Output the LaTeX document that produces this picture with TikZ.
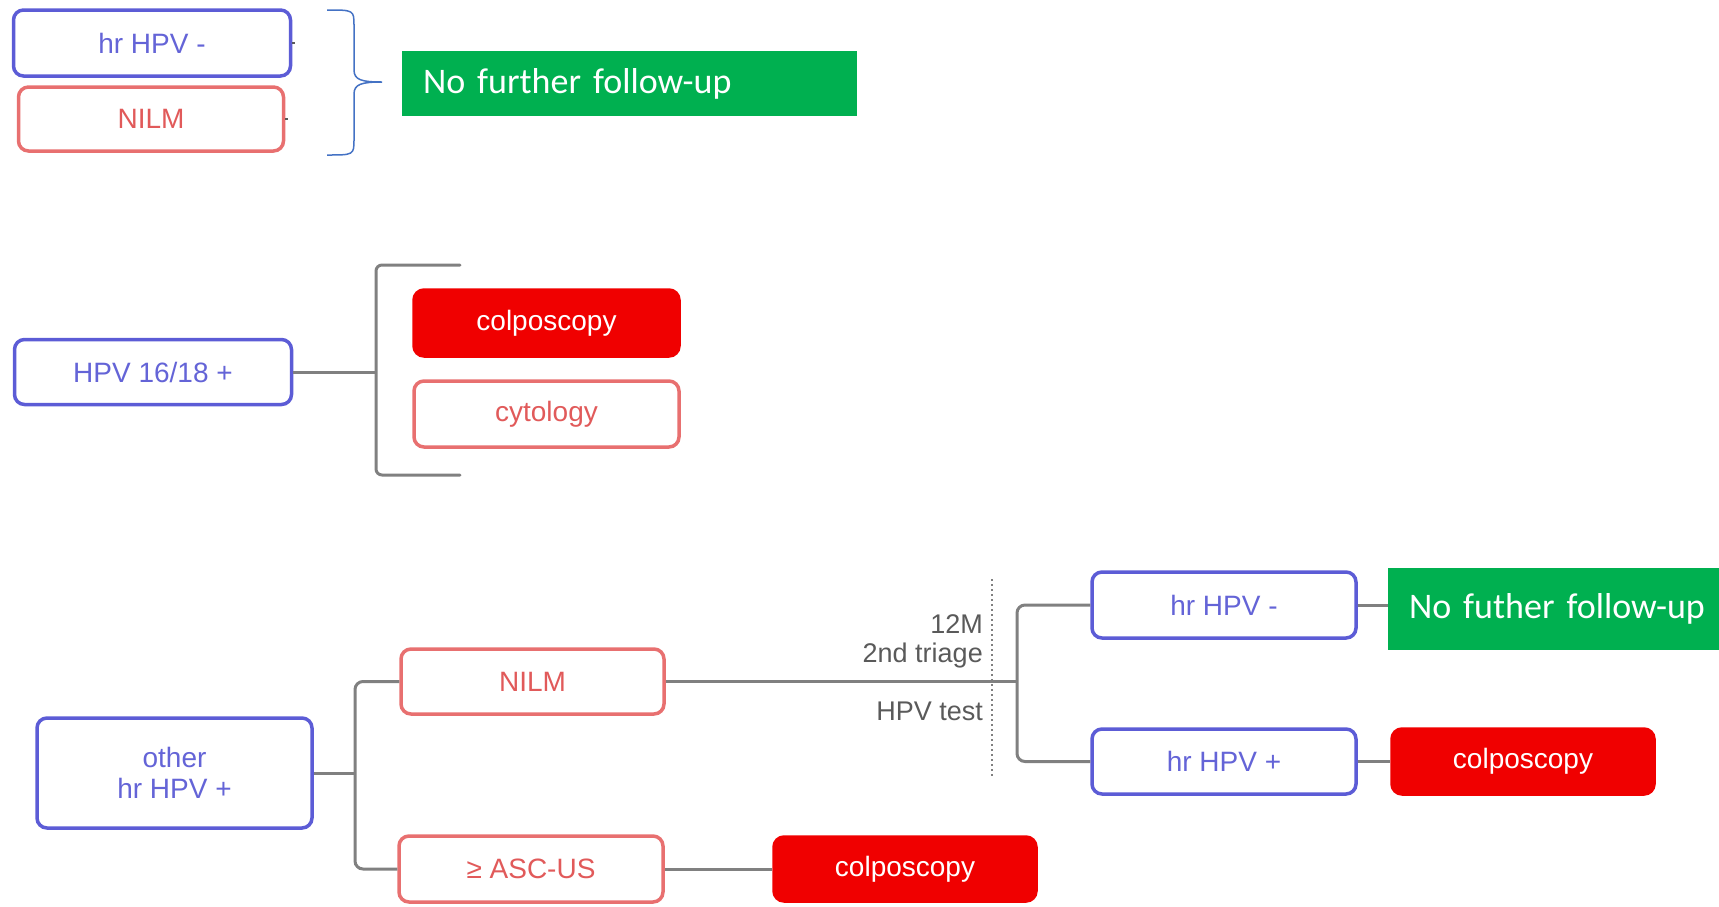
\documentclass[tikz,border=0pt]{standalone}
\usepackage{fontspec}
\setmainfont{Liberation Sans}
\newfontfamily\calib{Carlito}
\definecolor{bborder}{RGB}{92,92,214}
\definecolor{btext}{RGB}{100,100,215}
\definecolor{rborder}{RGB}{232,112,112}
\definecolor{rtext}{RGB}{225,90,90}
\definecolor{rfill}{RGB}{240,0,0}
\definecolor{glines}{RGB}{128,128,128}
\definecolor{ltext}{RGB}{90,90,90}
\definecolor{ggreen}{RGB}{0,176,80}
\definecolor{bracecol}{RGB}{68,114,196}
\tikzset{
  boxbase/.style={rectangle, rounded corners=10pt, line width=3.5pt, inner sep=0pt,
    font=\fontsize{28}{31}\selectfont, align=center},
  bluebox/.style={boxbase, draw=bborder, fill=white, text=btext},
  redbox/.style={boxbase, draw=rborder, fill=white, text=rtext},
  redfilled/.style={boxbase, draw=rfill, fill=rfill, text=white},
  greenbox/.style={rectangle, fill=ggreen, text=white, inner ysep=0pt, inner xsep=21pt,
    align=left, font=\calib\fontsize{36}{40}\selectfont},
  conn/.style={draw=glines, line width=3pt},
  lbl/.style={text=ltext, inner sep=0pt, anchor=east, font=\fontsize{27}{30}\selectfont}
}
\begin{document}
\begin{tikzpicture}[x=1pt,y=-1pt]
\useasboundingbox (0,0) rectangle (1719,906);
% ---------- top ----------
\node[bluebox, minimum width=277pt, minimum height=66pt] (t1) at (152,43) {hr HPV -};
\node[redbox, minimum width=265pt, minimum height=64pt] (t2) at (151,119) {NILM};
\draw[draw=ltext, line width=2pt] (t1.east) -- ++(3,0);
\draw[draw=ltext, line width=2pt] (t2.east) -- ++(3,0);
\draw[bracecol, line width=1.5pt]
  (327,10) .. controls (354,10) .. (354,26) -- (354,70)
  .. controls (354,80) and (362,82) .. (382,82)
  .. controls (362,82) and (354,84) .. (354,94) -- (354,139)
  .. controls (354,155) .. (327,155);
\node[greenbox, text width=413pt, minimum height=65pt] (g1) at (629.5,83.5) {\raisebox{-3pt}{No further follow-up}};
% ---------- middle ----------
\node[bluebox, minimum width=277pt, minimum height=65pt] (h1618) at (153,372) {HPV 16/18 +};
\node[redfilled, minimum width=265pt, minimum height=66pt] (c1) at (546.5,323) {colposcopy};
\node[redbox, minimum width=265pt, minimum height=66pt] (cy) at (546.5,414) {cytology};
\coordinate (bt) at (460,265);
\coordinate (bb) at (460,475);
\coordinate (bm) at (376,372);
\draw[conn] (h1618.east) -- (bm);
\draw[conn, rounded corners=6pt, line cap=round] (bt) -- (376,265) -- (376,475) -- (bb);
% ---------- bottom ----------
\node[bluebox, minimum width=275pt, minimum height=110pt] (oth) at (174.5,773)
  {\fontsize{28}{31}\selectfont other\\hr HPV +};
\node[redbox, minimum width=263pt, minimum height=65pt] (n2) at (532.5,681.5) {NILM};
\node[redbox, minimum width=264pt, minimum height=66pt] (asc) at (531,869) {≥ ASC-US};
\node[redfilled, minimum width=262pt, minimum height=64pt] (c2) at (905,869) {colposcopy};
\node[bluebox, minimum width=264pt, minimum height=66pt] (hn) at (1224,605) {hr HPV -};
\node[bluebox, minimum width=264pt, minimum height=65pt] (hp) at (1224,761.5) {hr HPV +};
\node[greenbox, text width=340pt, minimum height=82pt] (g2) at (1579,609) {\raisebox{-3pt}{No futher follow-up}};
\node[redfilled, minimum width=262pt, minimum height=65pt] (c3) at (1523,761.5) {colposcopy};
% connectors
\draw[conn] (oth.east) -- (355,773);
\draw[conn, rounded corners=8pt] (n2.west) -- (355,681.5) -- (355,869) -- (asc.west);
\draw[conn] (asc.east) -- (c2.west);
\draw[conn] (n2.east) -- (1017,681.5);
\draw[conn, rounded corners=8pt] (hn.west) -- (1017,605) -- (1017,761.5) -- (hp.west);
\draw[conn] (hn.east) -- (hn.east -| g2.west);
\draw[conn] (hp.east) -- (c3.west);
\draw[glines, line width=2.5pt, dash pattern=on 2pt off 3pt] (992,579) -- (992,776);
\node[lbl] (l1) at (983,624) {12M};
\node[lbl] (l2) at (983,656) {2nd triage};
\node[lbl] (l3) at (983,711) {HPV test};
\end{tikzpicture}
\end{document}
